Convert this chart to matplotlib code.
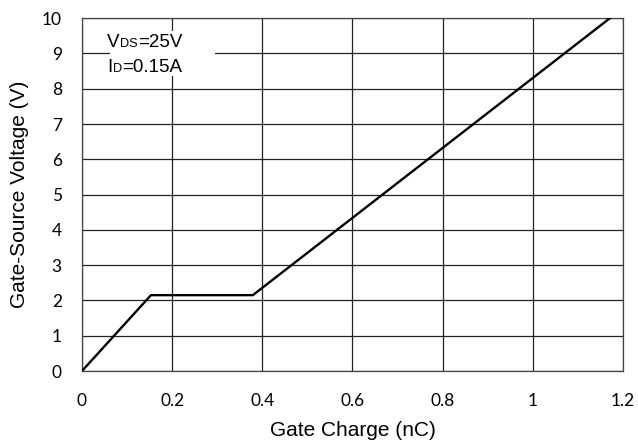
import matplotlib
matplotlib.use("Agg")
import matplotlib.pyplot as plt
from matplotlib.patches import Rectangle

# Gate charge curve (nC, V)
charge = [0.0, 0.153, 0.379, 1.171]
vgs = [0.0, 2.15, 2.15, 10.0]

x_ticks = [0, 0.2, 0.4, 0.6, 0.8, 1.0, 1.2]
x_labels = ["0", "0.2", "0.4", "0.6", "0.8", "1", "1.2"]
y_ticks = list(range(0, 11))

# test conditions: (main letter, subscript, rest)
cond_lines = [("V", "DS", "=25V"), ("I", "D", "=0.15A")]

plt.rcParams['font.family'] = ['Liberation Sans', 'DejaVu Sans']

fig = plt.figure(figsize=(6.38, 4.43), dpi=100)
ax = fig.add_axes([0.1285, 0.1625, 0.848, 0.7965])

ax.plot(charge, vgs, color='black', linewidth=1.7, zorder=3)

ax.set_xlim(0, 1.2)
ax.set_ylim(0, 10)
ax.set_xticks(x_ticks)
ax.set_xticklabels(x_labels)
ax.set_yticks(y_ticks)
ax.tick_params(axis='x', length=0, pad=15.5)
ax.tick_params(axis='y', length=0, pad=14.5)
for lab in ax.get_xticklabels() + ax.get_yticklabels():
    lab.set_fontfamily(['Lato', 'DejaVu Sans'])
    lab.set_fontsize(12.5)
ax.grid(True, color='#222222', linewidth=0.9)
for s in ax.spines.values():
    s.set_color('#444444')
    s.set_linewidth(0.9)

ax.set_xlabel("Gate Charge (nC)", fontsize=15, labelpad=9)
ax.set_ylabel("Gate-Source Voltage (V)", fontsize=15, labelpad=9)

# white box behind the test conditions
ax.add_patch(Rectangle((0.051, 0.835), 0.195, 0.13, transform=ax.transAxes,
                       facecolor='white', edgecolor='none', zorder=2.5))

fs = 13.5
for (main, sub, rest), y in zip(cond_lines, [9.18, 8.47]):
    t1 = ax.text(0.055, y, main, fontsize=fs, va='baseline',
                 family='Liberation Sans', zorder=4)
    t2 = ax.annotate(sub, xy=(1, 0), xycoords=t1, xytext=(0.5, 1.0),
                     textcoords='offset points', fontsize=fs * 0.68,
                     family='Liberation Sans', va='bottom', zorder=4)
    ax.annotate(rest, xy=(1, 0), xycoords=t2, xytext=(0.5, -1.0),
                textcoords='offset points', fontsize=fs,
                family='Liberation Sans', va='bottom', zorder=4)

fig.savefig("out.png", dpi=100)
